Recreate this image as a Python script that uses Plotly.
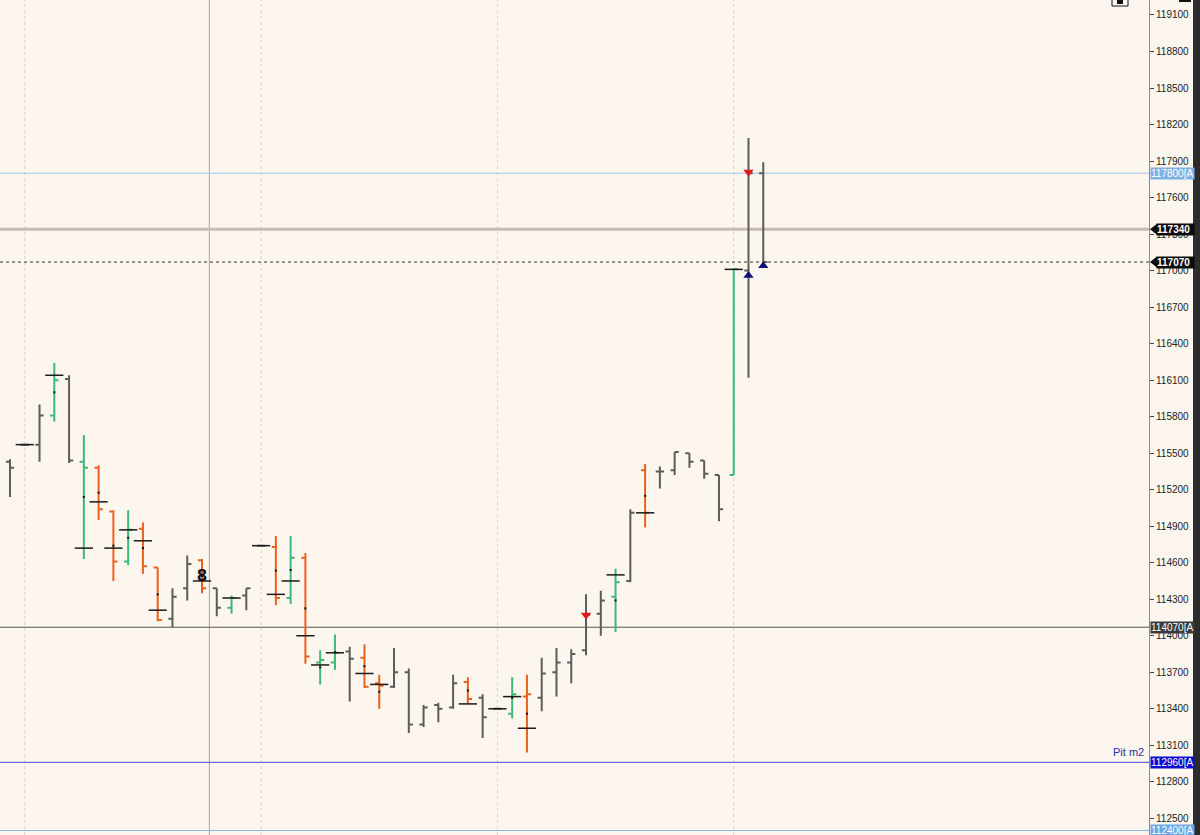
import plotly.graph_objects as go

# ---------------- data ----------------
bar_index = list(range(52))
opens = [115430, 115570, 115570, 115810, 116110, 115430, 115380, 115020, 114610, 114880,
         114560, 114140, 114390, 114620, 114390, 114230, 114330, 114740, 114730, 114310,
         114640, 113780, 113780, 113870, 113820, 113610, 113580, 113700, 113270, 113430,
         113410, 113620, 113490, 113400, 113360, 113500, 113490, 113700, 113780, 113880,
         114180, 114320, 114450, 115360, 115350, 115360, 115500, 115440, 115320, 115320,
         117000, 117800]
highs = [115450, 115570, 115900, 116240, 116140, 115650, 115400, 115030, 115030, 114930,
         114560, 114390, 114660, 114630, 114390, 114330, 114390, 114740, 114820, 114820,
         114680, 113880, 114010, 113910, 113930, 113680, 113900, 113730, 113430, 113450,
         113680, 113660, 113520, 113400, 113660, 113680, 113820, 113900, 113890, 114340,
         114370, 114550, 115040, 115410, 115390, 115510, 115500, 115440, 115320, 117020,
         118090, 117890]
lows = [115140, 115570, 115430, 115760, 115420, 114630, 114950, 114450, 114580, 114510,
        114120, 114070, 114290, 114350, 114160, 114180, 114210, 114740, 114250, 114260,
        113770, 113600, 113720, 113460, 113570, 113400, 113570, 113200, 113250, 113290,
        113400, 113440, 113160, 113400, 113320, 113040, 113380, 113500, 113610, 113840,
        114000, 114030, 114440, 114890, 115210, 115320, 115380, 115290, 114940, 115320,
        116120, 117070]
closes = [115380, 115570, 115810, 116100, 115440, 115380, 115040, 114610, 114870, 114570,
          114130, 114320, 114590, 114390, 114230, 114310, 114390, 114740, 114310, 114640,
          113830, 113800, 113860, 113810, 113580, 113590, 113700, 113270, 113410, 113400,
          113610, 113480, 113330, 113400, 113520, 113520, 113690, 113780, 113850, 114170,
          114290, 114440, 115010, 115010, 115350, 115510, 115430, 115330, 115040, 117010,
          117800, 117070]
# bar category: n = neutral, u = up-signal, d = down-signal
bar_group = ['n', 'n', 'n', 'u', 'n', 'u', 'd', 'd', 'u', 'd',
             'd', 'n', 'n', 'd', 'n', 'u', 'n', 'n', 'd', 'u',
             'd', 'u', 'u', 'n', 'd', 'd', 'n', 'n', 'n', 'n',
             'n', 'd', 'n', 'n', 'u', 'd', 'n', 'n', 'n', 'n',
             'n', 'u', 'n', 'd', 'n', 'n', 'n', 'n', 'n', 'u',
             'n', 'n']

# black cross marks
mark_index = [1, 3, 5, 6, 7, 8, 9, 10, 13, 15, 17, 18, 19, 20, 21, 22, 24, 25, 31, 33, 34, 35, 41, 43, 49]
mark_price = [115570, 116140, 114720, 115100, 114720, 114870, 114780, 114210, 114450, 114310,
              114740, 114340, 114450, 114000, 113760, 113860, 113690, 113600, 113440, 113400,
              113500, 113240, 114500, 115010, 117010]

# midpoint dots on signal bars
dot_index = [3, 5, 6, 7, 8, 9, 10, 13, 18, 19, 20, 21, 22, 24, 25, 31, 34, 35, 41, 43]

# signal arrows
sell_index = [39, 50]
sell_price = [114170, 117810]
buy_index = [50, 51]
buy_price = [116960, 117040]

# "8" mark
text_index = [13]
text_price = [114480]
text_label = ['8']

# session separators
session_index = [1, 17, 33, 49]
day_index = [13.5]

# horizontal levels
level_prices = [117800, 117340, 117070, 114070, 112960, 112400]
level_texts = ['117800[A', '117340', '117070', '114070[A', '112960[A', '112400[A']

tick_values = [112500, 112800, 113100, 113400, 113700, 114000, 114300, 114600, 114900,
               115200, 115500, 115800, 116100, 116400, 116700, 117000, 117300, 117600,
               117900, 118200, 118500, 118800, 119100]
tick_labels = [str(v) for v in tick_values]

# ---------------- styling ----------------
BG = '#FDF6EF'
colors = {'n': '#5c5c5c', 'u': '#3cb878', 'd': '#e8621e'}
PLOT_W = 1149.0

fig = go.Figure()

for g in ['n', 'u', 'd']:
    sel = [i for i in bar_index if bar_group[i] == g]
    fig.add_trace(go.Ohlc(
        x=[bar_index[i] for i in sel],
        open=[opens[i] for i in sel],
        high=[highs[i] for i in sel],
        low=[lows[i] for i in sel],
        close=[closes[i] for i in sel],
        increasing=dict(line=dict(color=colors[g], width=2)),
        decreasing=dict(line=dict(color=colors[g], width=2)),
        tickwidth=0.28,
        showlegend=False,
        hoverinfo='skip',
    ))

fig.add_trace(go.Scatter(
    x=mark_index, y=mark_price, mode='markers',
    marker=dict(symbol='line-ew', size=13, line=dict(color='#1a1a1a', width=1.5)),
    showlegend=False, hoverinfo='skip'))

fig.add_trace(go.Scatter(
    x=dot_index, y=[(highs[i] + lows[i]) / 2 for i in dot_index], mode='markers',
    marker=dict(symbol='square', size=2, color='#111111'),
    showlegend=False, hoverinfo='skip'))

fig.add_trace(go.Scatter(
    x=sell_index, y=sell_price, mode='markers',
    marker=dict(symbol='triangle-down', size=9, color='#e01818'),
    showlegend=False, hoverinfo='skip'))

fig.add_trace(go.Scatter(
    x=buy_index, y=buy_price, mode='markers',
    marker=dict(symbol='triangle-up', size=9, color='#101078'),
    showlegend=False, hoverinfo='skip'))

fig.add_trace(go.Scatter(
    x=text_index, y=text_price, mode='text', text=['<b>' + t + '</b>' for t in text_label],
    textfont=dict(family='DejaVu Sans', size=15, color='#111111'),
    showlegend=False, hoverinfo='skip'))

shapes = []
for s in session_index:
    shapes.append(dict(type='line', xref='x', yref='paper', x0=s, x1=s, y0=0, y1=1,
                       line=dict(color='#d6d0ca', width=1, dash='dot'), layer='below'))
for d in day_index:
    shapes.append(dict(type='line', xref='x', yref='paper', x0=d, x1=d, y0=0, y1=1,
                       line=dict(color='#aaa6a2', width=1), layer='below'))

level_style = [
    dict(color='#9fc3e6', width=1),
    dict(color='#c4bdb6', width=3),
    dict(color='#333333', width=1, dash='dot'),
    dict(color='#555555', width=1),
    dict(color='#4848d0', width=1),
    dict(color='#8ab6e2', width=1),
]
for p, st in zip(level_prices, level_style):
    shapes.append(dict(type='line', xref='paper', yref='y', x0=0, x1=1, y0=p, y1=p,
                       line=st, layer='below'))

# dark strip at far right
shapes.append(dict(type='rect', xref='paper', yref='paper', x0=1193 / PLOT_W, x1=1201 / PLOT_W,
                   y0=-0.01, y1=1.01, fillcolor='#2b2b2b', line=dict(width=0), layer='above'))
# top icon
shapes.append(dict(type='rect', xref='paper', yref='paper', x0=1112 / PLOT_W, x1=1128 / PLOT_W,
                   y0=1 - 6 / 835, y1=1.02, fillcolor=BG, line=dict(color='#111111', width=1)))
shapes.append(dict(type='rect', xref='paper', yref='paper', x0=1117 / PLOT_W, x1=1123 / PLOT_W,
                   y0=1 - 4 / 835, y1=1.01, fillcolor='#111111', line=dict(width=0)))
shapes.append(dict(type='rect', xref='paper', yref='paper', x0=1179 / PLOT_W, x1=1191 / PLOT_W,
                   y0=1 - 2 / 835, y1=1.01, fillcolor='#111111', line=dict(width=0)))

annotations = []
label_bg = ['#7fb0e6', '#0c0c0c', '#0c0c0c', '#3a3a3a', '#0a0ad0', '#6aa8e8']
label_arrow = [False, True, True, False, False, False]
unit = 8.216  # price per pixel
for p, t, bg, arrow in zip(level_prices, level_texts, label_bg, label_arrow):
    if arrow:
        x0 = 1156 / PLOT_W
        w = 37
        shapes.append(dict(type='path', xref='paper', yref='y',
                           path=f'M {1150 / PLOT_W},{p} L {1157 / PLOT_W},{p + 5.5 * unit} '
                                f'L {1157 / PLOT_W},{p - 5.5 * unit} Z',
                           fillcolor=bg, line=dict(width=0), layer='above'))
        txt = '<b>' + t + '</b>'
    else:
        x0 = 1150 / PLOT_W
        w = 43
        txt = t
    font = dict(family='Liberation Sans', size=10, color='#ffffff')
    annotations.append(dict(xref='paper', yref='y', x=x0, y=p, xanchor='left', yanchor='middle',
                            text=txt, showarrow=False, bgcolor=bg, borderpad=0, width=w, height=11,
                            align='left', font=font))

annotations.append(dict(xref='paper', yref='y', x=1146 / PLOT_W, y=112960, xanchor='right',
                        yanchor='bottom', yshift=2, text='Pit m2', showarrow=False,
                        font=dict(family='Liberation Sans', size=11, color='#2b2ba8')))

fig.update_layout(
    width=1200, height=835,
    margin=dict(l=0, r=51, t=0, b=0, pad=0),
    paper_bgcolor=BG, plot_bgcolor=BG,
    showlegend=False,
    xaxis=dict(range=[-0.677, 77.116], visible=False, showgrid=False, zeroline=False,
               rangeslider=dict(visible=False), fixedrange=True),
    yaxis=dict(range=[112363, 119223], side='right', tickvals=tick_values, ticktext=tick_labels,
               ticks='outside', ticklen=4, tickcolor='#444444', tickwidth=1,
               showline=True, linecolor='#8a8a8a', linewidth=1,
               showgrid=False, zeroline=False,
               tickfont=dict(family='Liberation Sans', size=10, color='#222222')),
    shapes=shapes,
    annotations=annotations,
)

fig.write_html("out.html", config={'displayModeBar': False},
               post_script="document.body.style.margin='0';document.body.style.overflow='hidden';")
